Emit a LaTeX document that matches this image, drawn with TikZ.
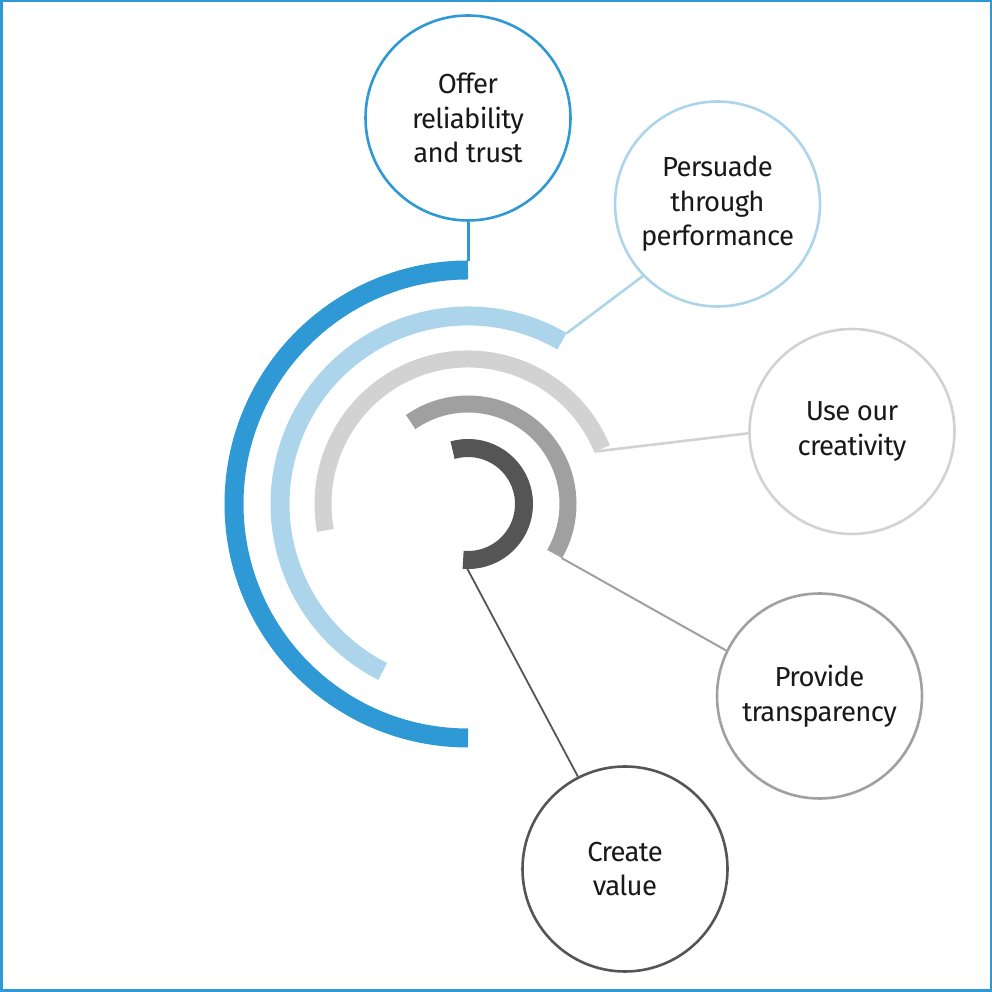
\documentclass[tikz,border=0pt]{standalone}
\usepackage{fontspec}
\setmainfont[LetterSpace=-2.5]{Fira Sans}
\usetikzlibrary{calc}
\definecolor{cblue}{RGB}{46,153,213}
\definecolor{clblue}{RGB}{172,213,236}
\definecolor{clgray}{RGB}{210,210,210}
\definecolor{cgray}{RGB}{160,160,160}
\definecolor{cdark}{RGB}{85,85,85}
\definecolor{ctext}{RGB}{25,25,25}
\tikzset{
  bubble/.style={circle, draw=#1, line width=2.6pt, fill=white, minimum size=205pt, inner sep=0pt,
    align=center, text=ctext, font=\fontsize{27.5}{34.5}\selectfont},
  ring/.style={line width=#1},
  link/.style={line width=#1}
}
\begin{document}
\begin{tikzpicture}[x=1pt,y=1pt]
\useasboundingbox (0,0) rectangle (992,992);
\draw[cblue, line width=2.5pt] (1.25,1.25) rectangle (990.75,990.75);
\coordinate (C) at (468,488);
% arcs
\draw[ring=19pt, cblue] ($(C)+(90:234)$) arc[start angle=90, end angle=270, radius=234];
\draw[ring=19pt, clblue] ($(C)+(60:188)$) arc[start angle=60, end angle=243, radius=188];
\draw[ring=17pt, clgray] ($(C)+(22.5:145)$) arc[start angle=22.5, end angle=190.5, radius=145];
\draw[ring=17pt, cgray] ($(C)+(125:100)$) arc[start angle=125, end angle=-30, radius=100];
\draw[ring=18pt, cdark] ($(C)+(106:56)$) arc[start angle=106, end angle=-95, radius=56];
% arc end points
\coordinate (e1) at ($(C)+(90:243)$);
\coordinate (e2) at ($(C)+(60:197)$);
\coordinate (e3) at ($(C)+(22.5:137)$);
\coordinate (e4) at ($(C)+(-30:108)$);
\coordinate (e5) at ($(C)+(-91:64)$);
% bubbles
\node[bubble=cblue] (offer) at (468,874) {Offer\\reliability\\and trust};
\node[bubble=clblue] (persuade) at (717.5,788) {Persuade\\through\\performance};
\node[bubble=clgray] (creat) at (852,560.5) {Use our\\creativity};
\node[bubble=cgray] (transp) at (819.5,296) {Provide\\transparency};
\node[bubble=cdark] (value) at (625,123) {Create\\value};
% links
\draw[link=3pt, cblue] (offer.south) -- (e1);
\draw[link=2.6pt, clblue] (persuade.224) -- (e2);
\draw[link=2.6pt, clgray] (creat.181) -- (e3);
\draw[link=2pt, cgray] (transp.154) -- (e4);
\draw[link=1.8pt, cdark] (value.117.5) -- (e5);
\end{tikzpicture}
\end{document}
